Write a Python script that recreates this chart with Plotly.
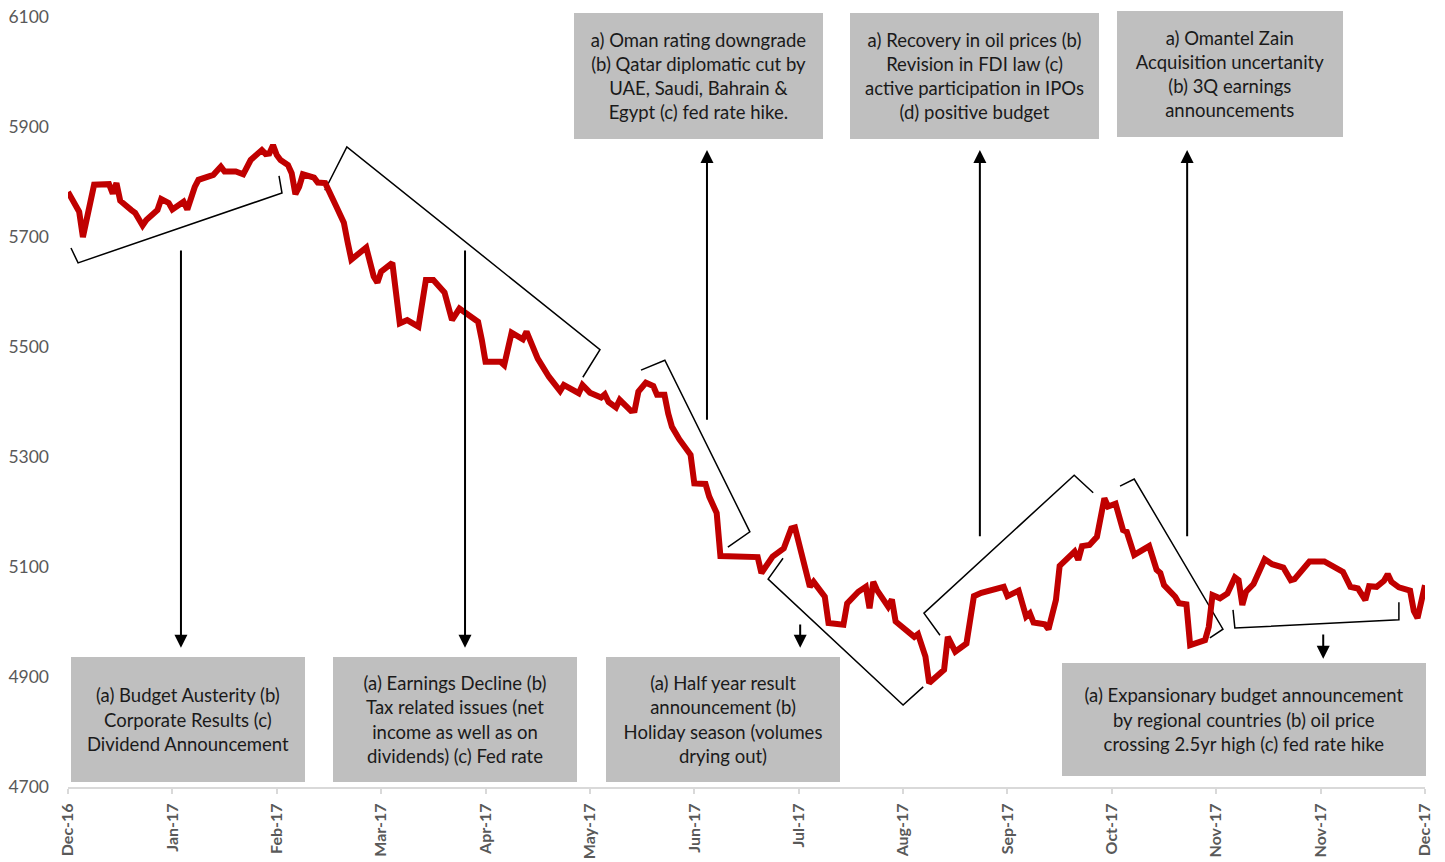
import pandas as pd
import plotly.graph_objects as go

START = pd.Timestamp("2016-12-28")

# MSM30 index level at turning points, keyed by days after START
day_offsets = [
    0, 3, 4, 7, 11, 12, 13, 14, 17, 18, 20, 21, 24, 25, 27, 28, 31, 32, 34, 35,
    39, 41, 42, 45, 47, 49, 52, 53, 54, 55, 56, 57, 59, 60, 61, 62, 63, 66, 67, 69,
    72, 74, 75, 76, 80, 82, 83, 84, 87, 89, 91, 94, 96, 98, 101, 102, 103, 105, 110,
    111, 112, 116, 117, 119, 122, 123, 126, 129, 132, 133, 137, 138, 140, 143, 144,
    145, 147, 148, 151, 152, 153, 155, 157, 158, 160, 161, 162, 164, 166, 167, 168,
    171, 172, 174, 175, 185, 186, 188, 189, 192, 194, 195, 196,
    197, 199, 200, 201, 203, 204, 208, 209, 212, 214, 215, 216, 217, 220, 221, 222, 224,
    227, 228, 230, 231, 235, 236, 238, 241, 243, 245, 251, 252, 255, 257, 258, 259,
    262, 263, 265, 266, 270, 271, 272, 274, 276, 278, 279, 281, 283, 284, 286, 290,
    292, 293, 294, 297, 298, 300, 301, 305, 306, 307, 309, 311, 313, 314, 315, 316,
    318, 321, 323, 326, 328, 329, 333, 337, 342, 344, 346, 348, 349, 351, 353, 354,
    355, 357, 360, 361, 362, 364,
]
index_level = [
    5782, 5746, 5700, 5795, 5796, 5779, 5798, 5766, 5749, 5744, 5721, 5731, 5749, 5769, 5762, 5750, 5764, 5750, 5791, 5804,
    5813, 5828, 5819, 5819, 5814, 5840, 5858, 5851, 5852, 5867, 5849, 5840, 5831, 5816, 5778, 5791, 5814, 5808, 5799, 5798,
    5755, 5726, 5691, 5659, 5681, 5628, 5617, 5637, 5653, 5543, 5549, 5537, 5622, 5622, 5599, 5573, 5549, 5570, 5546,
    5513, 5473, 5473, 5467, 5526, 5514, 5528, 5479, 5446, 5420, 5431, 5416, 5431, 5417, 5408, 5414,
    5400, 5390, 5404, 5384, 5385, 5419, 5435, 5429, 5413, 5413, 5379, 5355, 5332, 5313, 5304, 5252,
    5251, 5228, 5198, 5120, 5118, 5089, 5107, 5119, 5134, 5170, 5172, 5143,
    5119, 5064, 5073, 5064, 5046, 4998, 4995, 5034, 5055, 5064, 5025, 5073, 5058, 5028, 5041, 5001, 4991,
    4973, 4978, 4937, 4889, 4913, 4973, 4946, 4961, 5047, 5053, 5064, 5047, 5057, 5010, 5016, 4999,
    4996, 4987, 5040, 5102, 5128, 5113, 5138, 5140, 5155, 5225, 5210, 5215, 5167, 5164, 5122, 5138,
    5095, 5089, 5067, 5046, 5034, 5032, 4958, 4967, 4991, 5049, 5043, 5052, 5081, 5076, 5031, 5055,
    5069, 5114, 5105, 5099, 5076, 5078, 5110, 5110, 5091, 5064, 5061, 5040, 5065, 5064, 5075, 5087,
    5073, 5063, 5057, 5020, 5007, 5067,
]

Y_MIN, Y_MAX, Y_STEP = 4700, 6100, 200
TICK_EVERY_DAYS = 28
LAST_DAY = 364

# event commentary boxes: (centre day, centre level, width px, height px, text)
event_boxes = [
    (32.2, 4822.7, 234, 125, "(a) Budget Austerity (b)<br>Corporate Results (c)<br>Dividend Announcement"),
    (103.8, 4822.7, 244, 125, "(a) Earnings Decline (b)<br>Tax related issues (net<br>income as well as on<br>dividends) (c) Fed rate"),
    (175.7, 4822.7, 234, 125, "(a) Half year result<br>announcement (b)<br>Holiday season (volumes<br>drying out)"),
    (169.1, 5992.7, 249, 126, "a) Oman rating downgrade<br>(b) Qatar diplomatic cut by<br>UAE, Saudi, Bahrain &amp;<br>Egypt (c) fed rate hike."),
    (243.2, 5992.7, 249, 126, "a) Recovery in oil prices (b)<br>Revision in FDI law (c)<br>active participation in IPOs<br>(d) positive budget"),
    (311.7, 5996.4, 226, 126, "a) Omantel Zain<br>Acquisition uncertanity<br>(b) 3Q earnings<br>announcements"),
    (315.5, 4822.7, 364, 113, "(a) Expansionary budget announcement<br>by regional countries (b) oil price<br>crossing 2.5yr high (c) fed rate hike"),
]

# arrows: (day, tail level, head level)
event_arrows = [
    (30.3, 5678, 4953),
    (106.5, 5678, 4953),
    (196.4, 4998, 4953),
    (171.4, 5365, 5858),
    (244.6, 5153, 5858),
    (300.2, 5153, 5858),
    (336.7, 4980, 4933),
]

# brackets marking each phase: list of (day, level) vertices
phase_brackets = [
    [(0.8, 5680), (2.7, 5653), (57.4, 5780), (56.6, 5811)],
    [(68.9, 5785), (74.8, 5864), (142.7, 5495), (138.1, 5445)],
    [(153.7, 5458), (160.1, 5476), (182.9, 5164), (177.0, 5136)],
    [(191.8, 5116), (187.8, 5078), (224.0, 4849), (229.4, 4882)],
    [(233.9, 4976), (229.6, 5016), (269.9, 5267), (275.0, 5235)],
    [(282.2, 5247), (286.0, 5260), (309.8, 4987), (306.3, 4971)],
    [(312.5, 5022), (313.0, 4989), (357.0, 5004), (357.0, 5036)],
]


def on(day):
    return START + pd.Timedelta(days=day)


fig = go.Figure()

for pts in phase_brackets:
    fig.add_trace(go.Scatter(
        x=[on(d) for d, _ in pts], y=[v for _, v in pts],
        mode="lines", line=dict(color="#000000", width=1.5),
        hoverinfo="skip", showlegend=False,
    ))

fig.add_trace(go.Scatter(
    x=[on(d) for d in day_offsets], y=index_level,
    mode="lines", line=dict(color="#c00000", width=6, shape="linear"),
    name="MSM30", showlegend=False,
))

FONT_FAMILY = "Lato, 'Open Sans', sans-serif"
TEXT_FONT = dict(family=FONT_FAMILY, size=18.5, color="#1a1a1a")

for cx, cy, w, h, txt in event_boxes:
    fig.add_annotation(
        x=on(cx), y=cy, xref="x", yref="y", text=txt, showarrow=False,
        xanchor="center", yanchor="middle", width=w, height=h,
        bgcolor="#bfbfbf", borderpad=0, borderwidth=0,
        align="center", valign="middle", font=TEXT_FONT,
    )

for d, tail, head in event_arrows:
    fig.add_annotation(
        x=on(d), y=head, ax=on(d), ay=tail, xref="x", yref="y", axref="x", ayref="y",
        text="", showarrow=True, arrowhead=2, arrowsize=1.3, arrowwidth=2,
        arrowcolor="#000000", standoff=0, startstandoff=0,
    )

fig.update_layout(
    width=1445, height=862,
    margin=dict(l=68, r=20, t=17, b=75),
    paper_bgcolor="#ffffff", plot_bgcolor="#ffffff",
    showlegend=False,
    xaxis=dict(
        type="date", automargin=False,
        range=[on(0), on(LAST_DAY)],
        tick0=on(0), dtick=TICK_EVERY_DAYS * 86400000,
        tickformat="%b-%y", tickangle=-90,
        tickfont=dict(family=FONT_FAMILY, size=16, color="#595959", weight="bold"),
        showgrid=False, zeroline=False,
        showline=True, linecolor="#d9d9d9", linewidth=2,
        ticks="outside", ticklen=5, tickcolor="#d9d9d9", tickwidth=2,
        ticklabelstandoff=3,
    ),
    yaxis=dict(
        automargin=False,
        range=[Y_MIN, Y_MAX], tick0=Y_MIN, dtick=Y_STEP,
        tickfont=dict(family=FONT_FAMILY, size=17.5, color="#595959"),
        showgrid=False, zeroline=False, showline=False, ticks="",
        ticklabelstandoff=18,
    ),
)

fig.write_html("out.html")
